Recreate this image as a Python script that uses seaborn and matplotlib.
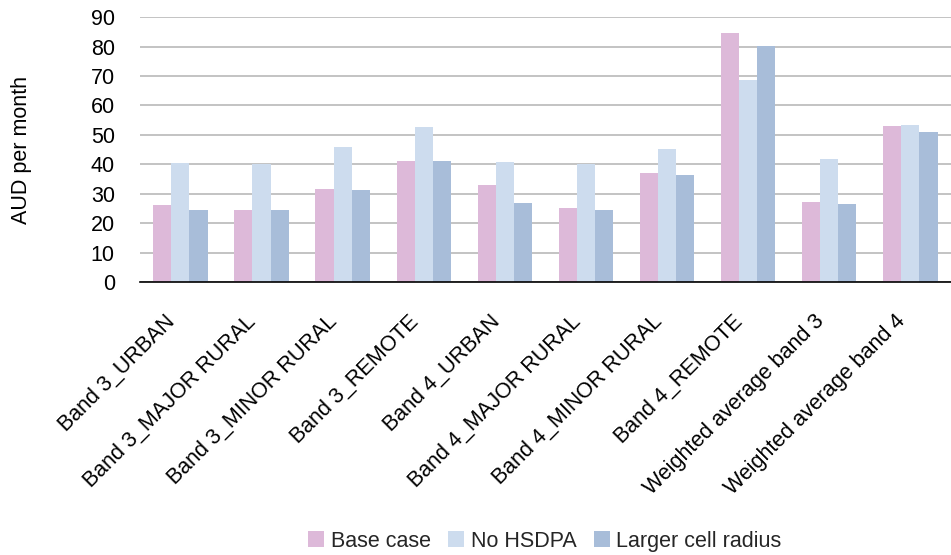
# plot.py
# AUD per month by band / geotype, three cost scenarios

import pandas as pd
import matplotlib
matplotlib.use("Agg")
import matplotlib.pyplot as plt
import matplotlib.transforms as mtransforms
import seaborn as sns

# ─────────────────────────────────────────
# DATA
# ─────────────────────────────────────────
categories = [
    "Band 3_URBAN", "Band 3_MAJOR RURAL", "Band 3_MINOR RURAL", "Band 3_REMOTE",
    "Band 4_URBAN", "Band 4_MAJOR RURAL", "Band 4_MINOR RURAL", "Band 4_REMOTE",
    "Weighted average band 3", "Weighted average band 4",
]
base_case = [26.2, 24.5, 31.6, 41.1, 32.9, 25.1, 37.0, 84.6, 27.2, 53.0]
no_hsdpa = [40.3, 40.1, 45.9, 52.6, 40.8, 40.2, 45.2, 68.6, 41.8, 53.3]
larger_radius = [24.5, 24.5, 31.2, 41.1, 26.8, 24.5, 36.3, 80.2, 26.5, 50.9]
series_names = ["Base case", "No HSDPA", "Larger cell radius"]
y_ticks = [0, 10, 20, 30, 40, 50, 60, 70, 80, 90]

colors = ["#DDB9D9", "#CDDCEE", "#A8BDD9"]

df = pd.DataFrame({
    "category": categories * 3,
    "scenario": sum([[s] * len(categories) for s in series_names], []),
    "value": base_case + no_hsdpa + larger_radius,
})

# ─────────────────────────────────────────
# STYLE
# ─────────────────────────────────────────
sns.set_theme(style="white")
plt.rcParams["font.family"] = ["Liberation Sans", "DejaVu Sans"]
FS = 15.5

fig = plt.figure(figsize=(9.51, 5.55), dpi=100)
ax = fig.add_axes([0.147, 0.492, 0.853, 0.477])

sns.barplot(data=df, x="category", y="value", hue="scenario",
            order=categories, hue_order=series_names,
            palette=colors, saturation=1, width=0.67, ax=ax,
            linewidth=0, edgecolor="none", legend=True)

ax.set_ylim(0, 90)
ax.set_xlim(-0.5, len(categories) - 0.5)
ax.set_yticks(y_ticks)
ax.yaxis.grid(True, color="#C3C3C3", linewidth=1.4)
ax.set_axisbelow(True)
for side in ["top", "right", "left"]:
    ax.spines[side].set_visible(False)
ax.spines["bottom"].set_color("black")
ax.spines["bottom"].set_linewidth(1.2)

ax.tick_params(axis="y", length=0, pad=18, labelsize=FS, colors="black")
ax.tick_params(axis="x", length=0, pad=13, labelsize=FS, colors="black")
# shift the rotated category labels a bit left and down
shift = mtransforms.ScaledTranslation(-0.16, -0.11, fig.dpi_scale_trans)
for lbl in ax.get_xticklabels():
    lbl.set_rotation(45)
    lbl.set_ha("right")
    lbl.set_rotation_mode("anchor")
    lbl.set_transform(lbl.get_transform() + shift)

ax.set_xlabel("")
ax.set_ylabel("AUD per month", fontsize=FS, color="black", labelpad=42)

handles, labels = ax.get_legend_handles_labels()
ax.get_legend().remove()
fig.legend(handles, labels, loc="center", bbox_to_anchor=(0.573, 0.025),
           ncol=3, frameon=False, fontsize=FS, handlelength=0.75,
           handleheight=0.75, handletextpad=0.3, columnspacing=0.8)

plt.savefig("out.png", dpi=100)
